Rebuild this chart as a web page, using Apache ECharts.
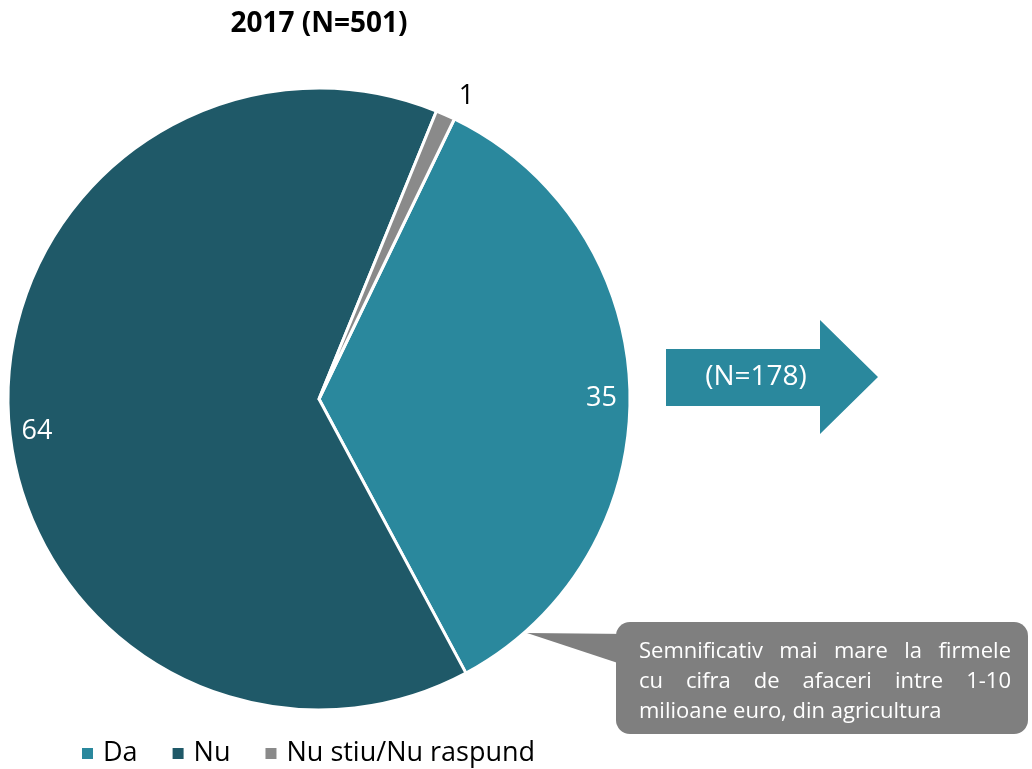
<!DOCTYPE html>
<html>
<head>
<meta charset="utf-8">
<script src="https://cdn.jsdelivr.net/npm/echarts@6/dist/echarts.min.js"></script>
<style>
  html, body { margin: 0; padding: 0; background: #fff; }
  #chart { width: 1032px; height: 769px; }
</style>
</head>
<body>
<div id="chart"></div>
<script>
// date din grafic
var categories = ['Da', 'Nu', 'Nu stiu/Nu raspund'];
var values = [35, 64, 1];
var colors = ['#2a889d', '#1f5968', '#8a8a8a'];
var titleText = '2017 (N=501)';
var arrowText = '(N=178)';
var noteLines = [
  'Semnificativ mai mare la firmele',
  'cu cifra de afaceri intre 1-10',
  'milioane euro, din agricultura'
];

var FONT = '"Open Sans"';
var NOTE_FONT = '22px ' + FONT;

// text justificat in caseta gri (ultimul rand aliniat la stanga)
function noteTexts() {
  var ctx = document.createElement('canvas').getContext('2d');
  ctx.font = NOTE_FONT;
  var left = 639, right = 1011, top = 641, lh = 30;
  var out = [];
  noteLines.forEach(function (line, i) {
    var words = line.split(' ');
    var y = top + i * lh;
    if (i === noteLines.length - 1) {
      out.push({ type: 'text', x: left, y: y, style: { text: line, fill: '#fff', font: NOTE_FONT } });
      return;
    }
    var total = 0;
    words.forEach(function (w) { total += ctx.measureText(w).width; });
    var gap = (right - left - total) / (words.length - 1);
    var x = left;
    words.forEach(function (w) {
      out.push({ type: 'text', x: x, y: y, style: { text: w, fill: '#fff', font: NOTE_FONT } });
      x += ctx.measureText(w).width + gap;
    });
  });
  return out;
}

var pieData = categories.map(function (c, i) {
  return { name: c, value: values[i], itemStyle: { color: colors[i] } };
});

var labelData = categories.map(function (c, i) {
  var d = { name: c, value: values[i] };
  if (i === 2) {
    d.label = { position: 'outside', color: '#000' };
    d.labelLine = { show: false, length: 22, length2: 0 };
  }
  if (i === 0) d.label = { offset: [0, 5] };
  if (i === 1) d.label = { offset: [0, 18] };
  return d;
});

var chart = echarts.init(document.getElementById('chart'));
chart.setOption({
  animation: false,
  title: {
    text: titleText,
    left: 314,
    textAlign: 'center',
    top: 5,
    textStyle: { fontFamily: FONT, fontSize: 28, fontWeight: 'bold', color: '#000' }
  },
  legend: {
    data: categories,
    left: 75,
    top: 735,
    icon: 'rect',
    itemWidth: 13,
    itemHeight: 13,
    itemGap: 33,
    selectedMode: false,
    textStyle: { fontFamily: FONT, fontSize: 27, color: '#000', padding: [0, 0, 0, 4] }
  },
  series: [{
    type: 'pie',
    center: [319, 399],
    radius: [0, 311],
    startAngle: 64.2,
    clockwise: true,
    data: pieData,
    itemStyle: { borderColor: '#fff', borderWidth: 3 },
    label: { show: false },
    labelLine: { show: false },
    emphasis: { disabled: true }
  }, {
    type: 'pie',
    center: [319, 399],
    radius: [250, 309],
    startAngle: 64.2,
    clockwise: true,
    silent: true,
    data: labelData,
    itemStyle: { color: 'transparent' },
    label: {
      show: true,
      position: 'inside',
      formatter: '{c}',
      fontFamily: FONT,
      fontSize: 27,
      color: '#fff'
    },
    labelLine: { show: false },
    emphasis: { disabled: true }
  }],
  graphic: [{
    type: 'polygon',
    shape: { points: [[666, 349], [820, 349], [820, 320], [878, 377], [820, 434], [820, 406], [666, 406]] },
    style: { fill: colors[0] }
  }, {
    type: 'text',
    x: 756,
    y: 377,
    style: { text: arrowText, fill: '#fff', font: '28px ' + FONT, align: 'center', verticalAlign: 'middle' }
  }, {
    type: 'polygon',
    shape: { points: [[527, 633], [630, 634], [630, 667]] },
    style: { fill: '#7f7f7f' }
  }, {
    type: 'rect',
    shape: { x: 616, y: 622, width: 412, height: 112, r: 14 },
    style: { fill: '#7f7f7f' }
  }].concat(noteTexts())
});
window.addEventListener('resize', function () { chart.resize(); });
</script>
</body>
</html>
